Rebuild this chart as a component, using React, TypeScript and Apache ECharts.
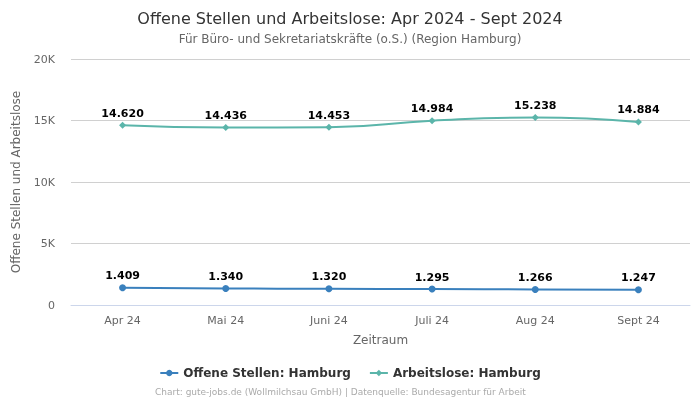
import React, { useEffect, useRef } from "react";
import * as echarts from "echarts";

const categories = ["Apr 24", "Mai 24", "Juni 24", "Juli 24", "Aug 24", "Sept 24"];
const offeneStellen = [1409, 1340, 1320, 1295, 1266, 1247];
const arbeitslose = [14620, 14436, 14453, 14984, 15238, 14884];
const yTicks = [0, 5000, 10000, 15000, 20000];

const FONT = "DejaVu Sans";
const fmt = (v: number) => v.toLocaleString("de-DE");

export default function App() {
  const ref = useRef<HTMLDivElement>(null);
  useEffect(() => {
    if (!ref.current) return;
    const chart = echarts.init(ref.current, undefined, { renderer: "svg" });
    const label = {
      show: true,
      position: "top",
      distance: 3,
      fontFamily: FONT,
      fontSize: 11,
      fontWeight: "bold",
      color: "#000",
      formatter: (p: any) => fmt(p.value),
    };
    chart.setOption({
      animation: false,
      textStyle: { fontFamily: FONT },
      title: {
        text: "Offene Stellen und Arbeitslose: Apr 2024 - Sept 2024",
        subtext: "Für Büro- und Sekretariatskräfte (o.S.) (Region Hamburg)",
        left: "center",
        top: 5,
        itemGap: 7,
        textStyle: { fontFamily: FONT, fontSize: 16, fontWeight: "normal", color: "#333" },
        subtextStyle: { fontFamily: FONT, fontSize: 12, color: "#666" },
      },
      grid: { left: 71, right: 10, top: 59, bottom: 95 },
      legend: {
        bottom: 16,
        left: "center",
        itemGap: 18,
        itemWidth: 18,
        itemHeight: 8,
        textStyle: { fontFamily: FONT, fontSize: 12, fontWeight: "bold", color: "#333" },
        data: ["Offene Stellen: Hamburg", "Arbeitslose: Hamburg"],
      },
      graphic: [
        {
          type: "text",
          left: 155,
          top: 387,
          style: {
            text: "Chart: gute-jobs.de (Wollmilchsau GmbH) | Datenquelle: Bundesagentur für Arbeit",
            fontFamily: FONT,
            fontSize: 9,
            fill: "#aaa",
          },
        },
      ],
      xAxis: {
        type: "category",
        data: categories,
        boundaryGap: true,
        name: "Zeitraum",
        nameLocation: "middle",
        nameGap: 29,
        nameTextStyle: { fontFamily: FONT, fontSize: 12, color: "#666" },
        axisLine: { lineStyle: { color: "#ccd6eb" } },
        axisTick: { show: false },
        axisLabel: { fontFamily: FONT, fontSize: 11, color: "#666", margin: 10 },
      },
      yAxis: {
        type: "value",
        min: 0,
        max: 20000,
        interval: 5000,
        name: "Offene Stellen und Arbeitslose",
        nameLocation: "middle",
        nameGap: 49,
        nameMoveOverlap: false,
        nameTextStyle: { fontFamily: FONT, fontSize: 12, color: "#666" },
        axisLabel: {
          fontFamily: FONT,
          fontSize: 11,
          color: "#666",
          margin: 16,
          formatter: (v: number) => (yTicks.includes(v) ? (v === 0 ? "0" : v / 1000 + "K") : ""),
        },
        splitLine: { lineStyle: { color: "#d0d0d0" } },
      },
      series: [
        {
          name: "Offene Stellen: Hamburg",
          type: "line",
          smooth: true,
          data: offeneStellen,
          symbol: "circle",
          symbolSize: 7,
          color: "#3a80bd",
          lineStyle: { width: 2 },
          label,
        },
        {
          name: "Arbeitslose: Hamburg",
          type: "line",
          smooth: true,
          data: arbeitslose,
          symbol: "diamond",
          symbolSize: 7,
          color: "#5bb5aa",
          lineStyle: { width: 2 },
          label,
        },
      ],
    });
    return () => chart.dispose();
  }, []);
  return (
    <div
      ref={ref}
      style={{ position: "fixed", left: 0, top: 0, width: 700, height: 400 }}
    />
  );
}
